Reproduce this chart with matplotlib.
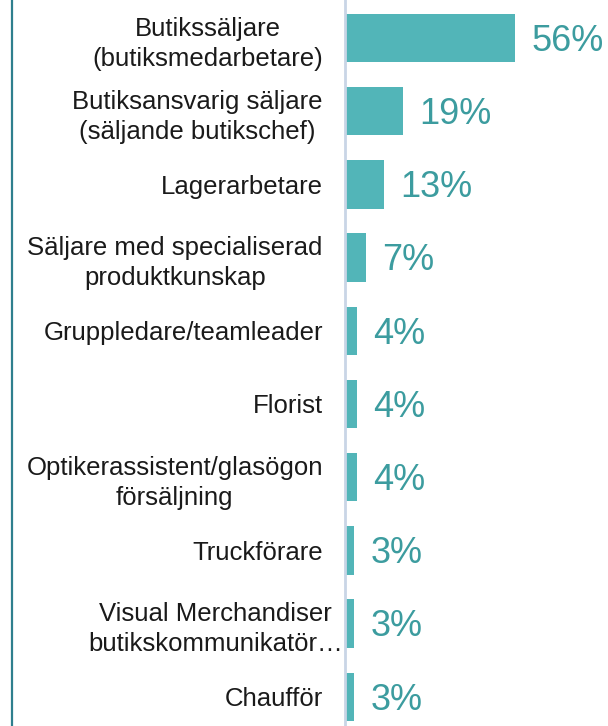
import matplotlib
matplotlib.use('Agg')
import matplotlib.pyplot as plt
from matplotlib.lines import Line2D
from matplotlib.transforms import ScaledTranslation

# Categories and shares (percent)
categories = [
    "Butikssäljare\n(butiksmedarbetare)",
    "Butiksansvarig säljare\n(säljande butikschef)",
    "Lagerarbetare",
    "Säljare med specialiserad\nproduktkunskap",
    "Gruppledare/teamleader",
    "Florist",
    "Optikerassistent/glasögon\nförsäljning",
    "Truckförare",
    "Visual Merchandiser\nbutikskommunikatör…",
    "Chaufför",
]
values = [56, 19, 13, 7, 4, 4, 4, 3, 3, 3]
value_labels = ["56%", "19%", "13%", "7%", "4%", "4%", "4%", "3%", "3%", "3%"]

plt.rcParams['font.family'] = ['Liberation Sans', 'DejaVu Sans']

bar_color = '#52B5B8'
text_teal = '#3C9C9F'

fig = plt.figure(figsize=(6.08, 7.26), dpi=100)
ax = fig.add_axes([345 / 608, 0, 1 - 345 / 608, 1])

ypos = list(range(len(categories)))
ax.barh(ypos, values, height=0.66, color=bar_color)

for y, v, lab in zip(ypos, values, value_labels):
    ax.text(v + 5.3, y + 0.045, lab, va='center', ha='left', fontsize=26, color=text_teal)

ax.set_xlim(0, 86.6)
ax.set_ylim(9.40, -0.52)
ax.set_yticks(ypos)
ax.set_yticklabels(categories, fontsize=18.5, color='#1A1A1A')
for lbl in ax.get_yticklabels():
    lbl.set_multialignment('center')
    lbl.set_linespacing(1.32)
ax.tick_params(axis='y', length=0, pad=16)
ax.set_xticks([])

# the truncated label runs right up to the axis line
vm = ax.get_yticklabels()[8]
vm.set_transform(vm.get_transform() + ScaledTranslation(0.2, 0, fig.dpi_scale_trans))

for s in ['top', 'right', 'bottom']:
    ax.spines[s].set_visible(False)
ax.spines['left'].set_color('#C9D5E6')
ax.spines['left'].set_linewidth(2)

# dark teal rule at the far left
fig.add_artist(Line2D([11.5 / 608, 11.5 / 608], [0, 1], transform=fig.transFigure,
                      color='#2F7F8E', linewidth=1.6))

fig.savefig('out.png', dpi=100)
